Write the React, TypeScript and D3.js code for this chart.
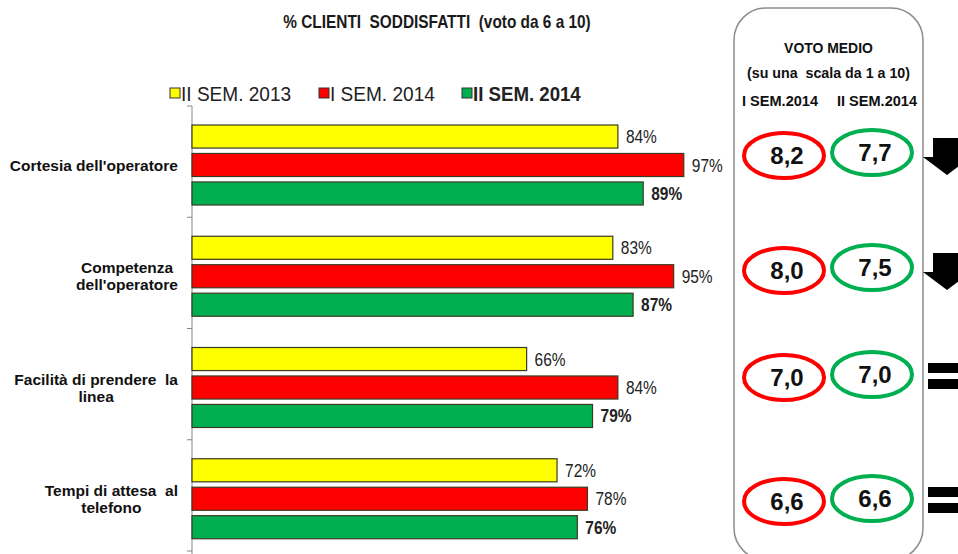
import React, { useEffect, useRef } from "react";
import * as d3 from "d3";

const categories = [
  "Cortesia dell'operatore",
  "Competenza dell'operatore",
  "Facilità di prendere la linea",
  "Tempi di attesa al telefono",
];
const categoryLines = [
  ["Cortesia dell'operatore"],
  ["Competenza", "dell'operatore"],
  ["Facilità di prendere  la", "linea"],
  ["Tempi di attesa  al", "telefono"],
];
const seriesNames = ["II SEM. 2013", "I SEM. 2014", "II SEM. 2014"];
const seriesColors = ["#FFFF00", "#FF0000", "#00B050"];
const sem2_2013 = [84, 83, 66, 72];
const sem1_2014 = [97, 95, 84, 78];
const sem2_2014 = [89, 87, 79, 76];
const votoSem1_2014 = [8.2, 8.0, 7.0, 6.6];
const votoSem2_2014 = [7.7, 7.5, 7.0, 6.6];
const title = "% CLIENTI  SODDISFATTI  (voto da 6 a 10)";
const panelTitle1 = "VOTO MEDIO";
const panelTitle2 = "(su una  scala da 1 a 10)";
const panelCols = ["I SEM.2014", "II SEM.2014"];

const W = 958;
const H = 554;
const SANS = "'Liberation Sans', Arial, sans-serif";

type Sel = d3.Selection<any, unknown, null, undefined>;

function narrowText(
  parent: Sel,
  x: number,
  y: number,
  text: string,
  size: number,
  sx: number,
  opts: { anchor?: string; bold?: boolean; fill?: string } = {}
) {
  return parent
    .append("text")
    .attr("transform", `translate(${x},${y}) scale(${sx},1)`)
    .attr("text-anchor", opts.anchor || "start")
    .attr("font-family", SANS)
    .attr("font-size", size)
    .attr("font-weight", opts.bold ? "bold" : "normal")
    .attr("fill", opts.fill || "#1a1a1a")
    .style("white-space", "pre")
    .text(text);
}

export default function App() {
  const ref = useRef<SVGSVGElement | null>(null);

  useEffect(() => {
    const svg = d3.select(ref.current) as unknown as Sel;
    svg.selectAll("*").remove();

    const series = [sem2_2013, sem1_2014, sem2_2014];
    const x0 = 192;
    const x = d3.scaleLinear().domain([0, 100]).range([x0, 699]);
    const y = d3.scaleBand<string>().domain(categories).range([106, 551]).paddingInner(0);
    const ySub = d3
      .scaleBand<number>()
      .domain([0, 1, 2])
      .range([19, 99])
      .paddingInner(0.19);

    // title
    narrowText(svg, 437, 28, title, 17.5, 0.88, { anchor: "middle", bold: true });

    // legend
    const legendX = [170, 319, 462];
    seriesNames.forEach((name, i) => {
      svg
        .append("rect")
        .attr("x", legendX[i])
        .attr("y", 88)
        .attr("width", 10)
        .attr("height", 10)
        .attr("fill", seriesColors[i])
        .attr("stroke", "#333")
        .attr("stroke-width", 1);
      narrowText(svg, legendX[i] + 11, 101, name, 20.5, i === 2 ? 0.91 : 0.93, {
        bold: i === 2,
        fill: "#222",
      });
    });

    // axis
    const axis = svg.append("g");
    axis
      .append("line")
      .attr("x1", x0)
      .attr("x2", x0)
      .attr("y1", 106)
      .attr("y2", H)
      .attr("stroke", "#868686")
      .attr("stroke-width", 1);
    const bounds = categories.map((c) => y(c) as number).concat([551]);
    bounds.forEach((b) => {
      axis
        .append("line")
        .attr("x1", x0 - 5)
        .attr("x2", x0)
        .attr("y1", b)
        .attr("y2", b)
        .attr("stroke", "#868686")
        .attr("stroke-width", 1);
    });

    // bars
    categories.forEach((c, ci) => {
      const top = y(c) as number;
      series.forEach((vals, si) => {
        const by = top + (ySub(si) as number);
        svg
          .append("rect")
          .attr("x", x0)
          .attr("y", by)
          .attr("width", x(vals[ci]) - x0)
          .attr("height", ySub.bandwidth())
          .attr("fill", seriesColors[si])
          .attr("stroke", "#3a3a20")
          .attr("stroke-width", 1.2);
        narrowText(
          svg,
          x(vals[ci]) + 8,
          by + ySub.bandwidth() / 2 + 6.5,
          vals[ci] + "%",
          18,
          0.86,
          { bold: si === 2, fill: "#222" }
        );
      });

      // category labels
      const lines = categoryLines[ci];
      const midCenter = top + (ySub(1) as number) + ySub.bandwidth() / 2;
      const g = svg.append("g");
      const texts = lines.map((ln, li) =>
        g
          .append("text")
          .attr("y", midCenter + 5.5 + (li - (lines.length - 1) / 2) * 17)
          .attr("font-family", SANS)
          .attr("font-weight", "bold")
          .attr("font-size", 15.5)
          .attr("fill", "#111")
          .attr("text-anchor", "middle")
          .style("white-space", "pre")
          .text(ln)
      );
      const widths = texts.map((t) => (t.node() as SVGTextElement).getComputedTextLength());
      const maxW = d3.max(widths) as number;
      const cx = 178 - maxW / 2;
      texts.forEach((t) => t.attr("x", cx));
    });

    // right panel
    const px0 = 734;
    const px1 = 923;
    svg
      .append("rect")
      .attr("x", px0)
      .attr("y", 8)
      .attr("width", px1 - px0)
      .attr("height", 552)
      .attr("rx", 32)
      .attr("ry", 32)
      .attr("fill", "none")
      .attr("stroke", "#8c8c8c")
      .attr("stroke-width", 1.5);
    const pcx = (px0 + px1) / 2;
    narrowText(svg, pcx, 53, panelTitle1, 15.5, 0.9, { anchor: "middle", bold: true, fill: "#111" });
    narrowText(svg, pcx, 78, panelTitle2, 15.5, 0.92, { anchor: "middle", bold: true, fill: "#111" });
    const colX = [780, 877];
    panelCols.forEach((c, i) => {
      narrowText(svg, colX[i], 106, c, 15.5, 0.94, { anchor: "middle", bold: true, fill: "#111" });
    });

    const rowY = [154, 269, 376, 500];
    const fmt = (v: number) => v.toFixed(1).replace(".", ",");
    categories.forEach((c, ci) => {
      const cy = rowY[ci];
      const vals = [votoSem1_2014[ci], votoSem2_2014[ci]];
      const ecx = [784, 872];
      const ecy = [cy + 1.5, cy - 1.5];
      const ecol = ["#FF0000", "#00B050"];
      vals.forEach((v, i) => {
        svg
          .append("ellipse")
          .attr("cx", ecx[i])
          .attr("cy", ecy[i])
          .attr("rx", 40)
          .attr("ry", 22.5)
          .attr("fill", "none")
          .attr("stroke", ecol[i])
          .attr("stroke-width", 4);
        svg
          .append("text")
          .attr("x", ecx[i] + 3)
          .attr("y", ecy[i] + 8.5)
          .attr("text-anchor", "middle")
          .attr("font-family", SANS)
          .attr("font-weight", "bold")
          .attr("font-size", 24)
          .attr("fill", "#111")
          .text(fmt(v));
      });

      // trend symbol
      const diff = vals[1] - vals[0];
      const ax = 947;
      if (diff < 0) {
        const t = cy - 16;
        const p = d3.path();
        p.moveTo(ax - 14, t);
        p.lineTo(ax + 14, t);
        p.lineTo(ax + 14, t + 19);
        p.lineTo(ax + 24, t + 19);
        p.lineTo(ax, t + 37);
        p.lineTo(ax - 24, t + 19);
        p.lineTo(ax - 14, t + 19);
        p.closePath();
        svg.append("path").attr("d", p.toString()).attr("fill", "#000");
      } else if (diff === 0) {
        const t = cy - 13;
        [0, 16].forEach((o) => {
          svg
            .append("rect")
            .attr("x", 928)
            .attr("y", t + o)
            .attr("width", 40)
            .attr("height", 10)
            .attr("fill", "#000");
        });
      }
    });
  }, []);

  return (
    <svg
      ref={ref}
      width={W}
      height={H}
      style={{ position: "absolute", left: 0, top: 0, background: "#fff" }}
    />
  );
}
